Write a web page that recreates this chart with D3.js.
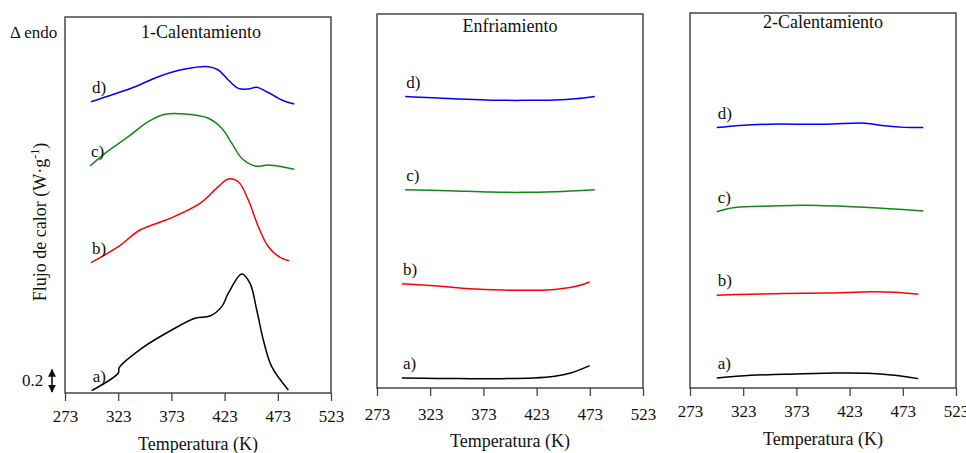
<!DOCTYPE html>
<html><head><meta charset="utf-8">
<script src="https://cdn.jsdelivr.net/npm/d3@7"></script>
<style>
html,body{margin:0;padding:0;background:#fff;}
svg{display:block;}
svg text{font-family:"Liberation Serif","Tinos","Times New Roman","DejaVu Serif","Noto Serif",serif !important;}
</style></head>
<body><svg id="c" width="966" height="453"></svg>
<script>
// ---------- DATA ----------
const xTicks = [273, 323, 373, 423, 473, 523];
const seriesNames = ["a)", "b)", "c)", "d)"];
const seriesColors = ["#000000", "#ff0000", "#118811", "#0000ff"];
const panelTitles = ["1-Calentamiento", "Enfriamiento", "2-Calentamiento"];

// 1-Calentamiento
const h1_a_T = [298.1, 323.1, 323.9, 345.1, 373.3, 395.2, 409.3, 420.3, 426.5, 439.1, 446.9, 453.2, 459.4, 467.3, 482.9];
const h1_a_V = [0.02, 0.170, 0.215, 0.380, 0.536, 0.636, 0.655, 0.735, 0.849, 1.013, 0.933, 0.706, 0.451, 0.224, 0.026];
const h1_b_T = [297.4, 323.1, 343.5, 371.7, 399.9, 417.1, 426.5, 435.9, 445.3, 454.7, 464.1, 475.1, 483.5];
const h1_b_V = [1.109, 1.245, 1.387, 1.486, 1.614, 1.756, 1.821, 1.798, 1.643, 1.416, 1.245, 1.155, 1.126];
const h1_c_T = [296.5, 310.6, 332.5, 351.3, 367.0, 385.8, 407.7, 420.3, 429.7, 439.1, 451.6, 464.1, 476.7, 488.5];
const h1_c_V = [1.932, 2.040, 2.182, 2.309, 2.372, 2.374, 2.338, 2.253, 2.126, 1.998, 1.932, 1.940, 1.926, 1.904];
const h1_d_T = [297.4, 316.9, 338.8, 360.7, 385.8, 407.7, 417.1, 426.5, 435.9, 445.3, 453.2, 462.6, 476.7, 488.5];
const h1_d_V = [2.479, 2.536, 2.606, 2.692, 2.757, 2.777, 2.749, 2.664, 2.593, 2.587, 2.602, 2.564, 2.494, 2.460];

// Enfriamiento
const cool_a_T = [296.4, 330, 360, 390, 420, 440, 455, 472.9];
const cool_a_V = [0.086, 0.082, 0.080, 0.080, 0.085, 0.100, 0.128, 0.191];
const cool_b_T = [296.4, 330, 360, 390, 420, 440, 460, 472.9];
const cool_b_V = [0.892, 0.872, 0.850, 0.838, 0.836, 0.843, 0.870, 0.907];
const cool_c_T = [299.5, 340, 380, 410, 440, 477.7];
const cool_c_V = [1.697, 1.688, 1.676, 1.674, 1.680, 1.697];
const cool_d_T = [299.5, 320, 350, 380, 410, 440, 460, 477.7];
const cool_d_V = [2.494, 2.485, 2.473, 2.463, 2.461, 2.465, 2.475, 2.494];

// 2-Calentamiento
const h2_a_T = [298.1, 330, 362, 410, 440, 465, 487.6];
const h2_a_V = [0.085, 0.108, 0.117, 0.128, 0.126, 0.108, 0.080];
const h2_b_T = [298.1, 330, 362, 400, 443.8, 465, 487.6];
const h2_b_V = [0.792, 0.800, 0.807, 0.810, 0.821, 0.818, 0.801];
const h2_c_T = [298.1, 315, 350, 381, 425, 460, 492.3];
const h2_c_V = [1.504, 1.540, 1.553, 1.559, 1.547, 1.530, 1.510];
const h2_d_T = [298.1, 320, 346.6, 400, 437.5, 456.3, 475, 492.3];
const h2_d_V = [2.222, 2.240, 2.251, 2.251, 2.260, 2.237, 2.224, 2.222];

const yDomain = [0, 3.2];
const scaleBarValue = 0.2;

// ---------- LAYOUT ----------
const panels = [
  {x0: 65, x1: 331, y0: 17, y1: 393, titleY: 38, tickY: 422, axTitleY: 450,
   series: [[h1_a_T, h1_a_V], [h1_b_T, h1_b_V], [h1_c_T, h1_c_V], [h1_d_T, h1_d_V]]},
  {x0: 377, x1: 643, y0: 14, y1: 388, titleY: 32, tickY: 420, axTitleY: 447,
   series: [[cool_a_T, cool_a_V], [cool_b_T, cool_b_V], [cool_c_T, cool_c_V], [cool_d_T, cool_d_V]]},
  {x0: 690, x1: 956, y0: 13, y1: 388, titleY: 28, tickY: 417, axTitleY: 445,
   series: [[h2_a_T, h2_a_V], [h2_b_T, h2_b_V], [h2_c_T, h2_c_V], [h2_d_T, h2_d_V]]}
];

const svg = d3.select("#c");
const frameColor = "#3a3a3a";

panels.forEach((p, pi) => {
  const x = d3.scaleLinear().domain([xTicks[0], xTicks[xTicks.length - 1]]).range([p.x0, p.x1]);
  const y = d3.scaleLinear().domain(yDomain).range([p.y1, p.y0]);
  p.x = x; p.y = y;
  const g = svg.append("g");

  g.append("rect").attr("x", p.x0).attr("y", p.y0)
    .attr("width", p.x1 - p.x0).attr("height", p.y1 - p.y0)
    .attr("fill", "none").attr("stroke", frameColor).attr("stroke-width", 1.4);

  const ax = g.append("g").attr("transform", `translate(0,${p.y1})`)
    .call(d3.axisBottom(x).tickValues(xTicks).tickSize(8).tickSizeOuter(0).tickFormat(d3.format("d")));
  ax.attr("font-family", null).attr("font-size", null);
  ax.select(".domain").remove();
  ax.selectAll("line").attr("stroke", frameColor).attr("stroke-width", 1.2);
  ax.selectAll("text").attr("y", null).attr("dy", null)
    .attr("transform", `translate(0,${p.tickY - p.y1})`)
    .style("font-size", "17px").attr("fill", "#111");

  g.append("text").attr("x", (p.x0 + p.x1) / 2).attr("y", p.axTitleY)
    .attr("text-anchor", "middle").style("font-size", "18px").attr("fill", "#111")
    .text("Temperatura (K)");

  g.append("text").attr("x", (p.x0 + p.x1) / 2 + (pi === 0 ? 3 : 0)).attr("y", p.titleY)
    .attr("text-anchor", "middle").style("font-size", "18px").attr("fill", "#111")
    .text(panelTitles[pi]);

  const line = d3.line().x(d => x(d[0])).y(d => y(d[1])).curve(d3.curveCatmullRom.alpha(0.5));
  p.series.forEach((s, si) => {
    const pts = s[0].map((t, i) => [t, s[1][i]]);
    g.append("path").datum(pts).attr("d", line)
      .attr("fill", "none").attr("stroke", seriesColors[si]).attr("stroke-width", 1.5);
    g.append("text").attr("x", x(pts[0][0]) + 1).attr("y", y(pts[0][1]) - 9)
      .style("font-size", "17px").attr("fill", "#111").text(seriesNames[si]);
  });
});

const p0 = panels[0];
svg.append("text").attr("x", 10).attr("y", 38).style("font-size", "17px").attr("fill", "#111").text("Δ endo");
svg.append("text").attr("transform", `translate(46,222) rotate(-90)`)
  .attr("text-anchor", "middle").style("font-size", "18px").attr("fill", "#111")
  .html('Flujo de calor (W·g<tspan dy="-7" font-size="12">-1</tspan><tspan dy="7">)</tspan>');
svg.append("text").attr("x", 22).attr("y", 386).style("font-size", "17px").attr("fill", "#111").text(String(scaleBarValue));

const defs = svg.append("defs");
defs.append("marker").attr("id", "ah").attr("viewBox", "0 0 10 10").attr("refX", 9).attr("refY", 5)
  .attr("markerWidth", 5).attr("markerHeight", 5).attr("orient", "auto-start-reverse")
  .append("path").attr("d", "M0,0 L10,5 L0,10 z").attr("fill", "#111");
svg.append("line").attr("x1", 52).attr("x2", 52)
  .attr("y1", p0.y(0) - 1).attr("y2", p0.y(scaleBarValue))
  .attr("stroke", "#111").attr("stroke-width", 1.6)
  .attr("marker-start", "url(#ah)").attr("marker-end", "url(#ah)");
</script>
</body></html>
